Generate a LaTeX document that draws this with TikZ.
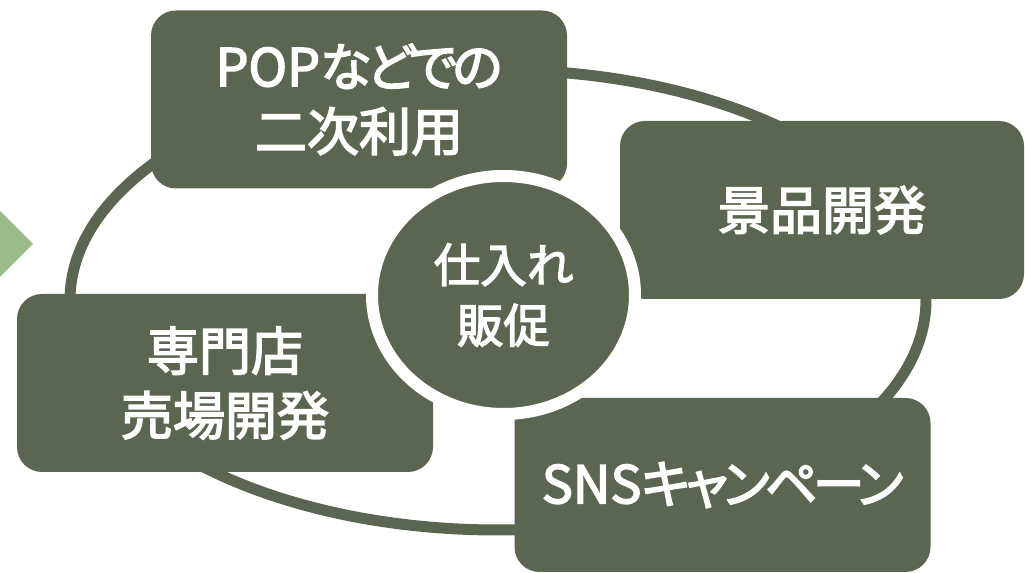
\documentclass[tikz,border=0pt]{standalone}
\usepackage{fontspec}
\setmainfont{Noto Sans CJK JP}[RawFeature=+palt, FakeBold=3]
\newfontfamily\narrowkana{Noto Sans CJK JP}[RawFeature=+palt, FakeBold=3, LetterSpace=-9]
\usepackage{xcolor}
\usepackage{tikz}
\usetikzlibrary{shapes.geometric}

\definecolor{cyclegreen}{RGB}{91,102,80}
\definecolor{arrowgreen}{RGB}{155,187,137}

\tikzset{
    stepbox/.style={rectangle, rounded corners=0.625cm, fill=cyclegreen, text=white,
        align=center, inner sep=0pt, minimum width=10.4cm, minimum height=4.45cm,
        font=\fontsize{37}{46}\selectfont},
    hubcircle/.style={ellipse, fill=cyclegreen, draw=white, line width=0.3cm, text=white,
        align=center, inner sep=0pt, minimum width=6.575cm, minimum height=5.95cm,
        font=\fontsize{33}{43}\selectfont}
}

\begin{document}
\begin{tikzpicture}
            \useasboundingbox (0, 0) rectangle (25.625, 14.325);
            \fill[arrowgreen] (0, 9.05) -- (0.825, 8.225) -- (0, 7.4) -- cycle;
            \draw[cyclegreen, line width=0.275cm] (12.45, 6.825) ellipse (10.7 and 5.75);
            \node[stepbox] (pop) at (8.975, 11.8375) {POP{\narrowkana などでの}\\二次利用};
            \node[stepbox, minimum width=10.1cm] (prize) at (20.55, 9.075) {景品開発};
            \node[stepbox] (shop) at (5.625, 4.75) {専門店\\売場開発};
            \node[stepbox, minimum height=4.35cm] (sns) at (18.0625, 2.2) {SNS{\narrowkana キャンペーン}};
            \node[hubcircle] (hub) at (12.5875, 6.95) {仕入れ\\販促};
        \end{tikzpicture}
\end{document}
